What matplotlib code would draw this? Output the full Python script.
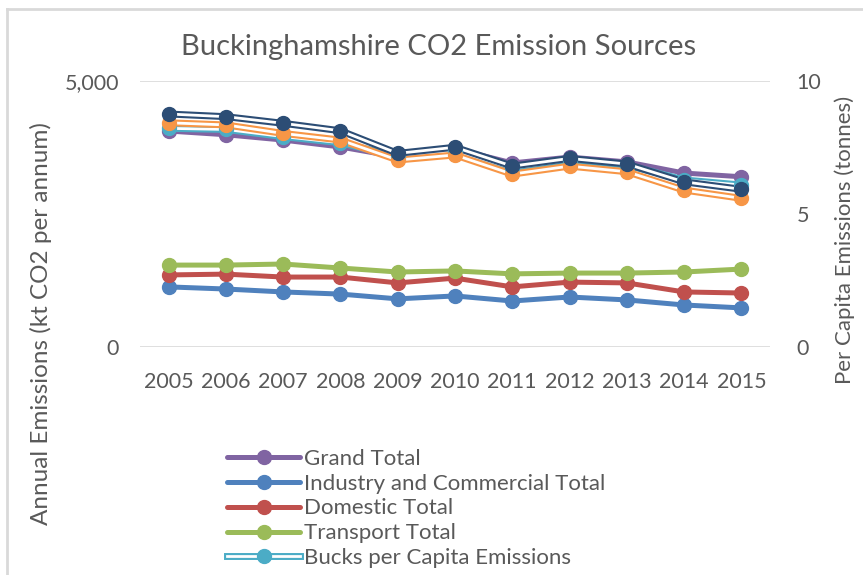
import matplotlib.pyplot as plt
from matplotlib.lines import Line2D
from matplotlib.legend_handler import HandlerTuple

plt.rcParams["font.family"] = ["Lato", "DejaVu Sans"]

TEXT = "#595959"
GRID = "#d9d9d9"

years = ["2005", "2006", "2007", "2008", "2009", "2010",
         "2011", "2012", "2013", "2014", "2015"]

# kt CO2 per annum (left axis)
grand_total = [4060, 3990, 3890, 3760, 3570, 3730, 3460, 3570, 3480, 3270, 3200]
industry_commercial = [1130, 1090, 1035, 995, 905, 960, 865, 940, 885, 790, 735]
domestic = [1355, 1370, 1315, 1315, 1205, 1295, 1130, 1220, 1205, 1035, 1015]
transport = [1540, 1540, 1560, 1485, 1410, 1430, 1375, 1390, 1390, 1410, 1465]

# tonnes per person (right axis)
bucks_per_capita = [8.22, 8.18, 7.91, 7.68, 7.16, 7.38, 6.72, 7.03, 6.84, 6.28, 6.09]
se_per_capita = [8.43, 8.35, 8.03, 7.78, 7.03, 7.22, 6.50, 6.80, 6.59, 5.90, 5.59]
england_per_capita = [8.76, 8.66, 8.41, 8.13, 7.28, 7.51, 6.80, 7.09, 6.88, 6.21, 5.93]

primary = [
    ("Grand Total", grand_total, "#8064A2"),
    ("Industry and Commercial Total", industry_commercial, "#4F81BD"),
    ("Domestic Total", domestic, "#C0504D"),
    ("Transport Total", transport, "#9BBB59"),
]
secondary = [
    ("Bucks per Capita Emissions", bucks_per_capita, "#4BACC6"),
    ("South East per Capita Emissions", se_per_capita, "#F79646"),
    ("England per Capita Emissions", england_per_capita, "#2C4D75"),
]

fig = plt.figure(figsize=(8.63, 5.75), dpi=100)
ax = fig.add_axes([0.1622, 0.3965, 0.73, 0.4626])
ax2 = ax.twinx()

x = list(range(len(years)))
handles = []
for label, vals, col in primary:
    h, = ax.plot(x, vals, color=col, lw=3.6, marker="o", ms=10,
                 solid_capstyle="round", label=label)
    handles.append(h)

for label, vals, col in secondary:
    ax2.plot(x, vals, color=col, lw=5.0, solid_capstyle="round", zorder=2)
    ax2.plot(x, vals, color="white", lw=2.0, solid_capstyle="round", zorder=2)
    ax2.plot(x, vals, color=col, lw=0, marker="o", ms=10, zorder=3)

ax.set_xlim(-0.5, len(years) - 0.5)
ax.set_ylim(0, 5000)
ax.set_yticks([0, 5000])
ax.set_yticklabels(["0", "5,000"])
ax2.set_ylim(0, 10)
ax2.set_yticks([0, 5, 10])
ax.set_xticks(x)
ax.set_xticklabels(years)

for a in (ax, ax2):
    for s in a.spines.values():
        s.set_visible(False)
    a.tick_params(length=0, colors=TEXT, labelsize=15.5)
ax.tick_params(axis="y", pad=15)
ax2.tick_params(axis="y", pad=19)
ax.tick_params(axis="x", pad=18)
ax.grid(axis="y", color=GRID, lw=1.2)
ax.set_axisbelow(True)

fig.text(0.508, 0.918, "Buckinghamshire CO2 Emission Sources", fontsize=21,
         color=TEXT, ha="center", va="center")
fig.text(0.047, 0.437, "Annual Emissions (kt CO2 per annum)", rotation=90,
         ha="center", va="center", fontsize=17.5, color=TEXT)
fig.text(0.979, 0.583, "Per Capita Emissions (tonnes)", rotation=90,
         ha="center", va="center", fontsize=16, color=TEXT)

# compound-line handle for the per capita series
bc = secondary[0][2]
bucks_handle = (Line2D([], [], color=bc, lw=5.0),
                Line2D([], [], color="white", lw=2.0),
                Line2D([], [], color=bc, lw=0, marker="o", ms=10))
leg_handles = handles + [bucks_handle]
leg_labels = [p[0] for p in primary] + [secondary[0][0]]
fig.legend(leg_handles, leg_labels, loc="upper left",
           bbox_to_anchor=(0.250, 0.239), frameon=False, fontsize=16,
           labelcolor=TEXT, handlelength=3.3, handletextpad=0.15,
           labelspacing=0.22, borderpad=0,
           handler_map={tuple: HandlerTuple(ndivide=1, pad=0)})

# outer chart border (left and top edges)
fig.add_artist(Line2D([0.008, 0.008], [0, 0.985], color=GRID, lw=2,
                      transform=fig.transFigure))
fig.add_artist(Line2D([0.008, 1], [0.985, 0.985], color=GRID, lw=2,
                      transform=fig.transFigure))

fig.savefig("out.png", dpi=100, facecolor="white")
